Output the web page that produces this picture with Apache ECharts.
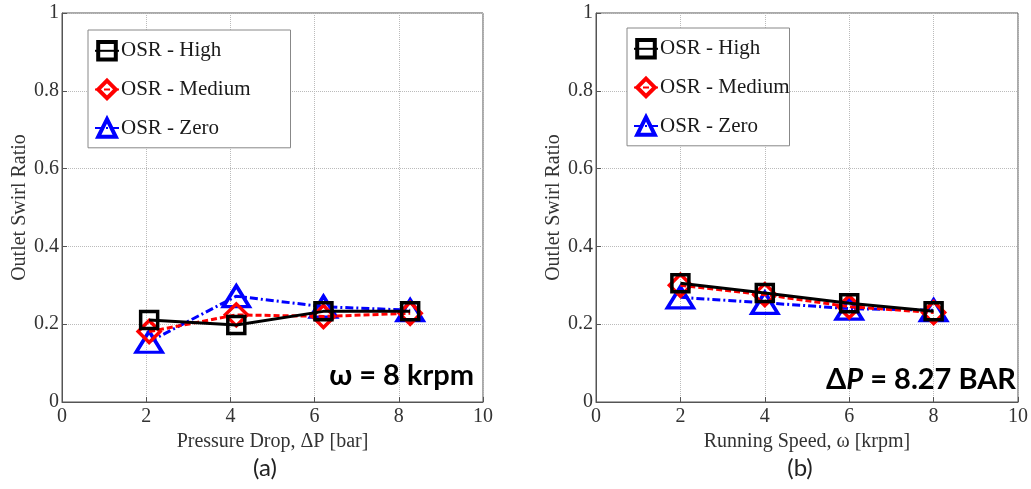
<!DOCTYPE html>
<html>
<head>
<meta charset="utf-8">
<script src="https://cdn.jsdelivr.net/npm/echarts@6/dist/echarts.min.js"></script>
<style>html,body{margin:0;padding:0;background:#fff}#c{width:1031px;height:489px}</style>
</head>
<body>
<div id="c"></div>
<script>
// Panel (a): Pressure drop [bar] at 8 krpm
const xA = [2.07, 4.14, 6.21, 8.27];
const aHigh = [0.211, 0.198, 0.233, 0.233];
const aMedium = [0.181, 0.224, 0.220, 0.228];
const aZero = [0.155, 0.272, 0.245, 0.236];
// Panel (b): Running speed [krpm] at 8.27 bar
const xB = [2, 4, 6, 8];
const bHigh = [0.305, 0.280, 0.254, 0.233];
const bMedium = [0.300, 0.276, 0.245, 0.230];
const bZero = [0.269, 0.255, 0.240, 0.236];
const names = ['OSR - High', 'OSR - Medium', 'OSR - Zero'];
const xTicks = [0, 2, 4, 6, 8, 10];
const yTicks = [0, 0.2, 0.4, 0.6, 0.8, 1];

const serif = 'Liberation Serif';
const pair = (xs, ys) => xs.map((x, i) => [x, ys[i]]);

function xAxis(idx, name) {
  return {
    type: 'value', gridIndex: idx, min: 0, max: 10, interval: 2,
    name: name, nameLocation: 'middle', nameGap: 22,
    nameTextStyle: { fontFamily: serif, fontSize: 20, color: '#333' },
    axisLine: { show: true, lineStyle: { color: '#555', width: 1 } },
    axisTick: { show: true, inside: true, length: 5, lineStyle: { color: '#555' } },
    axisLabel: { fontFamily: serif, fontSize: 20, color: '#333', margin: 5,
      formatter: v => xTicks.includes(v) ? String(v) : '' },
    splitLine: { show: true, lineStyle: { type: 'dotted', color: '#bbb', width: 1 } }
  };
}
function yAxis(idx) {
  return {
    type: 'value', gridIndex: idx, min: 0, max: 1, interval: 0.2,
    name: 'Outlet Swirl Ratio', nameLocation: 'middle', nameGap: 30,
    nameTextStyle: { fontFamily: serif, fontSize: 20, color: '#333' },
    axisLine: { show: true, lineStyle: { color: '#555', width: 1 } },
    axisTick: { show: true, inside: true, length: 5, lineStyle: { color: '#555' } },
    axisLabel: { fontFamily: serif, fontSize: 20, color: '#333', margin: 3,
      formatter: v => { const t = yTicks.find(y => Math.abs(y - v) < 1e-9); return t === undefined ? '' : String(t); } },
    splitLine: { show: true, lineStyle: { type: 'dotted', color: '#bbb', width: 1 } }
  };
}
const styles = [
  { color: '#000', symbol: 'rect', size: 17, line: 'solid' },
  { color: '#f00', symbol: 'diamond', size: 22, line: [6, 3] },
  { color: '#00f', symbol: 'triangle', size: [26, 21], line: [8, 3, 2, 3] }
];
function series(idx, xs, arrs) {
  return arrs.map((ys, k) => ({
    name: names[k], type: 'line', xAxisIndex: idx, yAxisIndex: idx,
    data: pair(xs, ys), symbol: styles[k].symbol, symbolSize: styles[k].size,
    showAllSymbol: true, z: 3 - k + 2,
    lineStyle: { color: styles[k].color, width: 3, type: styles[k].line },
    itemStyle: { color: 'rgba(255,255,255,0)', borderColor: styles[k].color, borderWidth: 3.5 },
    emphasis: { disabled: true }
  }));
}
function legend(left, top, padRight) {
  return {
    left: left, top: top, orient: 'vertical', data: names,
    backgroundColor: '#fff', borderColor: '#888', borderWidth: 1,
    padding: [10, padRight, 9, 6], itemGap: 17, itemWidth: 24, itemHeight: 22,
    itemStyle: { borderWidth: 4 },
    textStyle: { fontFamily: serif, fontSize: 21, color: '#1a1a1a', padding: [0, 0, 0, -3] },
    selectedMode: false
  };
}
const chart = echarts.init(document.getElementById('c'), null, { renderer: 'canvas' });
chart.setOption({
  animation: false,
  grid: [
    { left: 62, top: 13, width: 421, height: 389, show: true, borderColor: '#555', borderWidth: 1 },
    { left: 596, top: 13, width: 422, height: 389, show: true, borderColor: '#555', borderWidth: 1 }
  ],
  xAxis: [xAxis(0, 'Pressure Drop, \u0394P [bar]'), xAxis(1, 'Running Speed, \u03c9 [krpm]')],
  yAxis: [yAxis(0), yAxis(1)],
  legend: [legend(88, 30, 40), legend(627, 28, 0)],
  title: [
    { text: '\u03c9 = 8 krpm', right: 1031 - 474, top: 361,
      textStyle: { fontFamily: 'Lato', fontWeight: 'bold', fontSize: 29, color: '#000' }, padding: 0 },
    { text: '{d|\u0394}{p|P}{d| = 8.27 BAR}', right: 1031 - 1016, top: 365,
      textStyle: { rich: {
        d: { fontFamily: 'Lato', fontWeight: 'bold', fontSize: 29, color: '#000' },
        p: { fontFamily: 'Lato', fontWeight: 'bold', fontStyle: 'italic', fontSize: 29, color: '#000' } } }, padding: 0 },
    { text: '(a)', left: 265, top: 456, textAlign: 'center',
      textStyle: { fontFamily: 'Lato', fontWeight: 'normal', fontSize: 24, color: '#222' }, padding: 0 },
    { text: '(b)', left: 800, top: 456, textAlign: 'center',
      textStyle: { fontFamily: 'Lato', fontWeight: 'normal', fontSize: 24, color: '#222' }, padding: 0 }
  ],
  series: [].concat(series(0, xA, [aHigh, aMedium, aZero]), series(1, xB, [bHigh, bMedium, bZero]))
});
</script>
</body>
</html>
